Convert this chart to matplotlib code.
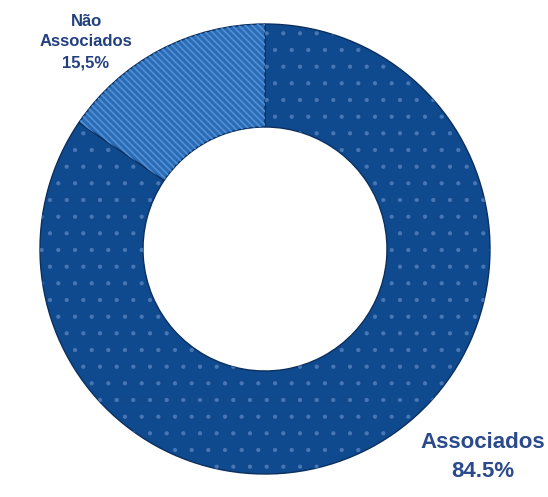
import matplotlib.pyplot as plt

labels = ['Associados', 'Não Associados']
values = [84.5, 15.5]
label_texts = ['Associados\n84.5%', 'Não\nAssociados\n15,5%']

cores = ['#104a8e', '#2a6cb4']
hatch_cores = ['#4877b5', '#4f8ed6']
hatches = ['.', '\\\\\\\\\\']
hatch_lw = [0.6, 1.3]

fig = plt.figure(figsize=(5.48, 4.97), dpi=100)
ax = fig.add_axes([0, 0, 1, 1])

centro = (265, 248)
raio = 225
largura = 103

# base wedges
wedges, _ = ax.pie(values, colors=cores, startangle=90, counterclock=False,
                   center=centro, radius=raio, frame=True,
                   wedgeprops=dict(width=largura, edgecolor='#0b2f5e', linewidth=1))

# hatch overlay, one per wedge
for w, h, hc, lw in zip(wedges, hatches, hatch_cores, hatch_lw):
    plt.rcParams['hatch.linewidth'] = lw
    ov = ax.pie([1], colors=['none'], startangle=w.theta1, counterclock=True,
                center=centro, radius=raio, frame=True,
                wedgeprops=dict(width=largura, fill=False, hatch=h, edgecolor=hc, linewidth=0))[0][0]
    ov.set_theta2(w.theta2)

ax.set_xlim(0, 548)
ax.set_ylim(0, 497)
ax.set_aspect('equal')
ax.axis('off')

fonte = ['Liberation Sans', 'DejaVu Sans']
ax.text(86, 455, label_texts[1], ha='center', va='center', fontsize=12,
        fontweight='bold', color='#22407e', family=fonte, linespacing=1.5)
ax.text(483, 40, label_texts[0], ha='center', va='center', fontsize=16,
        fontweight='bold', color='#2b4a8c', family=fonte, linespacing=1.45)

fig.savefig('out.png', dpi=100)
